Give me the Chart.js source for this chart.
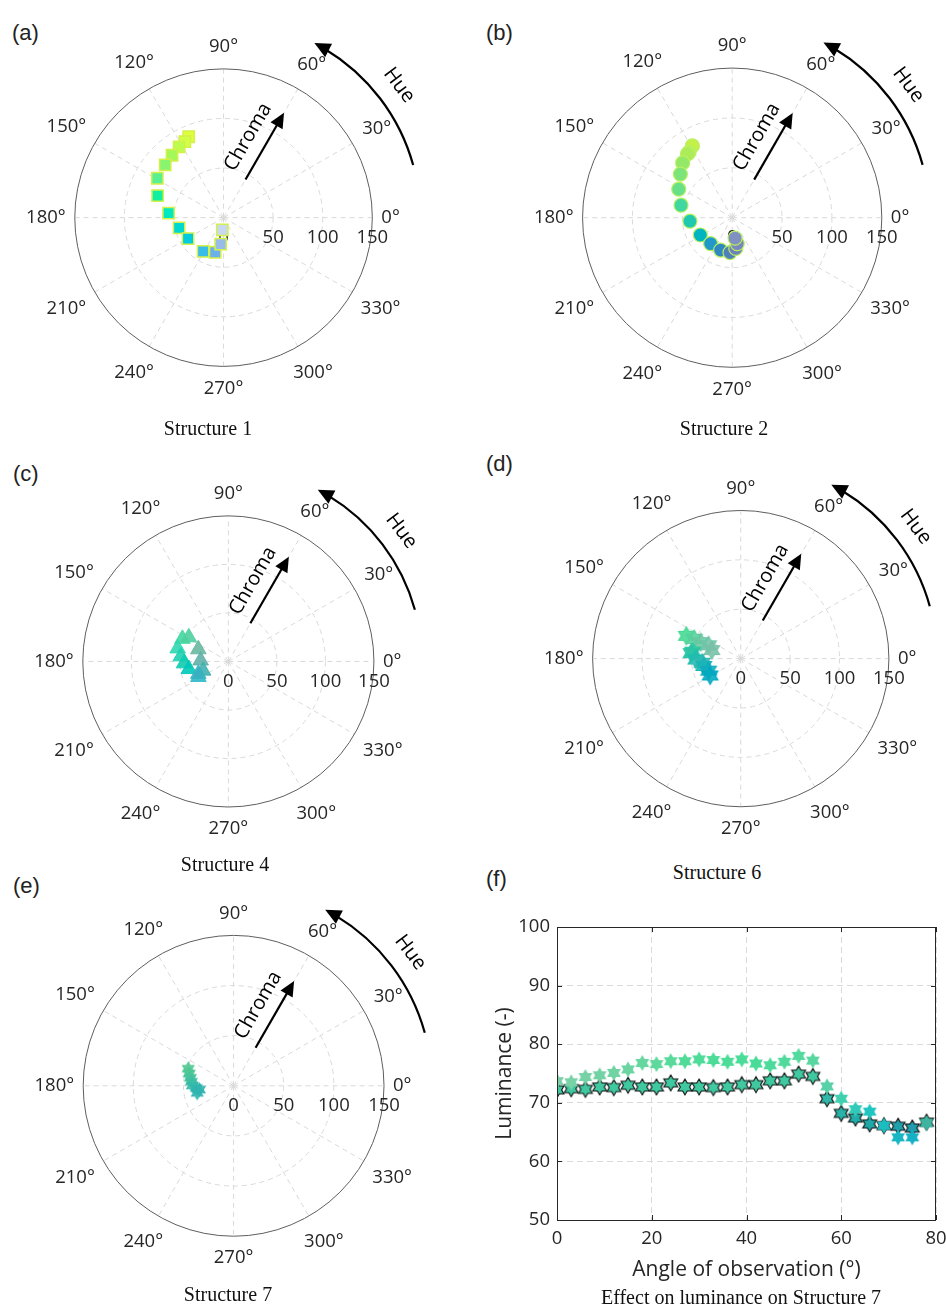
<!DOCTYPE html>
<html>
<head>
<meta charset="utf-8">
<script src="https://cdn.jsdelivr.net/npm/chart.js@4.4.1/dist/chart.umd.min.js"></script>
<style>
  body { margin: 0; background: #fff; width: 946px; height: 1306px; position: relative; overflow: hidden; }
  canvas { position: absolute; }
  .tag { position: absolute; font: 22px "Liberation Sans", Arial, sans-serif; line-height: 1; color: #222; }
  .cap { position: absolute; font: 20px "Liberation Serif", "Times New Roman", serif; color: #111;
         transform: translate(-50%, -50%); white-space: nowrap; }
</style>
</head>
<body>
<div class="tag" style="left:12px;top:22px">(a)</div>
<div class="tag" style="left:486px;top:22px">(b)</div>
<div class="tag" style="left:13px;top:463px">(c)</div>
<div class="tag" style="left:486px;top:453px">(d)</div>
<div class="tag" style="left:13px;top:875px">(e)</div>
<div class="tag" style="left:486px;top:868px">(f)</div>

<canvas id="pa"></canvas>
<canvas id="pb"></canvas>
<canvas id="pc"></canvas>
<canvas id="pd"></canvas>
<canvas id="pe"></canvas>
<canvas id="pf"></canvas>

<div class="cap" style="left:208px;top:428px">Structure 1</div>
<div class="cap" style="left:724px;top:428px">Structure 2</div>
<div class="cap" style="left:225px;top:864px">Structure 4</div>
<div class="cap" style="left:717px;top:872px">Structure 6</div>
<div class="cap" style="left:228px;top:1294px">Structure 7</div>
<div class="cap" style="left:741px;top:1297px">Effect on luminance on Structure 7</div>

<script>
// polar axes
const thetaTicks = [0, 30, 60, 90, 120, 150, 180, 210, 240, 270, 300, 330];
const rTicks = [0, 50, 100, 150];

// hue (deg) and chroma for each structure
const hueS1 = [113.2, 116.8, 122, 129.4, 137.7, 149.1, 161.5, 175.3, 193, 210.7, 238.9, 256.5, 263.8, 264.2];
const chromaS1 = [89.2, 86.4, 84.5, 81.8, 79.5, 77.8, 70.1, 55.6, 46, 41.6, 39.9, 36.1, 27, 12.4];

const hueS2 = [118.9, 123.3, 124.9, 132, 139.8, 151.8, 166.2, 184.8, 208.6, 230.4, 250.4, 266.4, 276.6, 281, 278];
const chromaS2 = [82.6, 78.8, 78.3, 74.2, 68, 60.8, 52.8, 42.5, 36.4, 33.9, 34.6, 35.2, 31.2, 26.6, 20.8];

const hueS4 = [153.7, 148.5, 165.5, 157.9, 173.9, 178, 182.5, 191, 200.2, 207.5, 202.6];
const chromaS4 = [52.8, 47.8, 54, 33.4, 49.3, 28.6, 45.7, 41.5, 27.7, 34.8, 33.5];

const hueS6 = [157.2, 157, 157.6, 157.4, 163.5, 171.7, 173.7, 181.2, 186.1, 191.3, 200.6, 209];
const chromaS6 = [59.8, 51.2, 43.9, 35.3, 30.6, 49.2, 50.6, 45.5, 39.2, 38.2, 34.8, 35.4];

const hueS7 = [159.3, 164.5, 169.4, 174.4, 179.6, 183.4, 186.5, 191];
const chromaS7 = [48.4, 46, 43.8, 42.3, 41.1, 37.3, 34.3, 37];

// luminance vs angle of observation (structure 7)
const angleObs = [0, 3, 6, 9, 12, 15, 18, 21, 24, 27, 30, 33, 36, 39, 42, 45, 48, 51, 54, 57, 60, 63, 66, 69, 72, 75, 78];
const lumLight = [73.7, 73.5, 74.4, 74.7, 75.1, 75.7, 76.8, 76.6, 77.1, 77.1, 77.4, 77.3, 77.0, 77.4, 76.7, 76.4, 77.0, 78.0, 77.2, 72.8, 70.7, 68.9, 68.5, 66.1, 64.1, 64.1, 66.5];
const lumEdged = [72.2, 72.4, 72.3, 72.7, 72.6, 73.0, 72.7, 72.7, 73.4, 72.7, 72.7, 72.6, 72.7, 73.1, 73.1, 73.75, 73.75, 74.9, 74.5, 70.7, 68.2, 67.4, 66.4, 66.1, 66.0, 65.7, 66.7];

// colours
const colS1 = ['#dcff3c', '#d0ff44', '#bcfc4c', '#a4f858', '#88f470', '#58f090', '#10f0a0', '#00e8c0',
  '#00d8d0', '#00cce0', '#38bce8', '#6cb0e8', '#98bce8', '#c8d8f0'];
const colS2 = ['#c4f048', '#b8f050', '#acec58', '#94e868', '#7ce478', '#68e088', '#40d8a0', '#20c8b0',
  '#00b4c0', '#2098c8', '#3088c0', '#5080b8', '#7080b8', '#7888bc', '#8090c0'];
const colS4 = ['#40d8a0', '#50d0a0', '#30d8b0', '#68b8a0', '#20d0b0', '#60b0a8', '#10ccb0', '#00c8b8',
  '#40b0b0', '#30b8c8', '#38b0c0'];
const colS6 = ['#40d890', '#58d09c', '#68c8a0', '#70c4a8', '#78c0a8', '#30c8a0', '#28c4a4', '#20bcb0',
  '#30b8b0', '#18b4b8', '#10acbc', '#00a8c0'];
const colS7 = ['#50c890', '#4cc894', '#48c49c', '#40c0a0', '#38bca8', '#34b8ac', '#30b4b0', '#30b4b0'];

function hex2rgb(h) { return [1, 3, 5].map(i => parseInt(h.substr(i, 2), 16)); }
function ramp(stops, n) {
  const out = [];
  for (let i = 0; i < n; i++) {
    let j = 0;
    while (j < stops.length - 2 && i > stops[j + 1][0]) j++;
    const [i0, c0] = stops[j], [i1, c1] = stops[j + 1];
    const t = Math.min(1, Math.max(0, (i - i0) / (i1 - i0)));
    const a = hex2rgb(c0), b = hex2rgb(c1);
    out.push('rgb(' + a.map((v, q) => Math.round(v + (b[q] - v) * t)).join(',') + ')');
  }
  return out;
}
const colLight = ramp([[0, '#7cd0a8'], [5, '#6cd4a0'], [9, '#50dc98'], [14, '#48dc98'], [18, '#58d8a0'],
  [19, '#58d0a8'], [20, '#40d0b0'], [22, '#20c4c0'], [25, '#14b0c4'], [26, '#40b4a0']], 27);
const colEdged = ramp([[0, '#40c8a0'], [18, '#40c8a0'], [19, '#30b8a8'], [21, '#20aca8'], [25, '#209cac'], [26, '#40b098']], 27);

function hexagram(r, fill, edge) {
  const s = Math.ceil(2 * r + 4);
  const c = document.createElement('canvas');
  c.width = c.height = s;
  const g = c.getContext('2d');
  const m = s / 2, ri = r / Math.sqrt(3);
  g.beginPath();
  for (let i = 0; i < 12; i++) {
    const a = -Math.PI / 2 + i * Math.PI / 6;
    const rr = i % 2 ? ri : r;
    g.lineTo(m + rr * Math.cos(a), m + rr * Math.sin(a));
  }
  g.closePath();
  g.fillStyle = fill;
  g.fill();
  if (edge) { g.strokeStyle = edge; g.lineWidth = 1.1; g.stroke(); }
  return c;
}

function arrowHead(ctx, tx, ty, ang, len, half) {
  const bx = tx - len * Math.cos(ang), by = ty - len * Math.sin(ang);
  ctx.beginPath();
  ctx.moveTo(tx, ty);
  ctx.lineTo(bx + half * Math.sin(ang), by - half * Math.cos(ang));
  ctx.lineTo(bx - half * Math.sin(ang), by + half * Math.cos(ang));
  ctx.closePath();
  ctx.fill();
}

const FONT = '"Open Sans", "Noto Sans", sans-serif';
const deg = Math.PI / 180;

const polarGrid = {
  id: 'polarGrid',
  beforeDatasetsDraw(chart) {
    const {ctx, scales: {x, y}} = chart;
    const cx = x.getPixelForValue(0), cy = y.getPixelForValue(0);
    const k = x.getPixelForValue(1) - cx;
    const R = rTicks[rTicks.length - 1] * k;
    ctx.save();
    // grid
    ctx.strokeStyle = '#d9d9d9';
    ctx.lineWidth = 1;
    ctx.setLineDash([5, 4]);
    thetaTicks.forEach(t => {
      ctx.beginPath();
      ctx.moveTo(cx, cy);
      ctx.lineTo(cx + R * Math.cos(t * deg), cy - R * Math.sin(t * deg));
      ctx.stroke();
    });
    rTicks.slice(1, -1).forEach(r => {
      ctx.beginPath();
      ctx.arc(cx, cy, r * k, 0, 2 * Math.PI);
      ctx.stroke();
    });
    ctx.setLineDash([]);
    ctx.strokeStyle = '#5e5e5e';
    ctx.beginPath();
    ctx.arc(cx, cy, R, 0, 2 * Math.PI);
    ctx.stroke();

    // tick labels
    ctx.fillStyle = '#262626';
    ctx.font = '18.5px ' + FONT;
    ctx.textAlign = 'center';
    ctx.textBaseline = 'middle';
    rTicks.forEach(r => ctx.fillText(String(r), cx + r * k, cy + 20));
    thetaTicks.forEach(t => {
      const c = Math.cos(t * deg), s = Math.sin(t * deg);
      const txt = t + '°';
      const w = ctx.measureText(txt).width;
      const d = R + 9 + w / 2 * Math.abs(c) + 13 * Math.abs(s);
      ctx.fillText(txt, cx + d * c, cy - d * s);
    });

    // chroma arrow
    ctx.strokeStyle = '#000';
    ctx.fillStyle = '#000';
    ctx.lineWidth = 2.2;
    const ca = 60 * deg, r0 = 44, r1 = 121;
    ctx.beginPath();
    ctx.moveTo(cx + r0 * Math.cos(ca), cy - r0 * Math.sin(ca));
    ctx.lineTo(cx + (r1 - 10) * Math.cos(ca), cy - (r1 - 10) * Math.sin(ca));
    ctx.stroke();
    arrowHead(ctx, cx + r1 * Math.cos(ca), cy - r1 * Math.sin(ca), -ca, 15, 7);
    ctx.save();
    const tx = 82 * Math.cos(ca) - 19 * Math.sin(ca), ty = 82 * Math.sin(ca) + 19 * Math.cos(ca);
    ctx.translate(cx + tx, cy - ty);
    ctx.rotate(-ca);
    ctx.font = '20px ' + FONT;
    ctx.fillText('Chroma', 0, 0);
    ctx.restore();

    // hue arc
    const RH = R + 48, a0 = 15.5 * deg, a1 = 62.5 * deg;
    ctx.beginPath();
    ctx.arc(cx, cy, RH, -a0, -(a1 - 12 / RH), true);
    ctx.stroke();
    arrowHead(ctx, cx + RH * Math.cos(a1), cy - RH * Math.sin(a1), Math.atan2(-Math.cos(a1), -Math.sin(a1)), 16, 7.5);
    ctx.save();
    const ha = 37 * deg, RT = R + 71;
    ctx.translate(cx + RT * Math.cos(ha), cy - RT * Math.sin(ha));
    ctx.rotate(Math.PI / 2 - ha);
    ctx.font = '20px ' + FONT;
    ctx.fillText('Hue', 0, 0);
    ctx.restore();
    ctx.restore();
  }
};

function polarChart(id, p) {
  const W = 473, H = 420;
  const el = document.getElementById(id);
  el.width = W; el.height = H;
  el.style.left = p.left + 'px';
  el.style.top = p.top + 'px';
  const k = p.R / rTicks[rTicks.length - 1];
  const ox = p.cx - p.left, oy = p.cy - p.top;
  return new Chart(el, {
    type: 'scatter',
    data: {
      datasets: [{
        data: p.hue.map((h, i) => ({x: p.chroma[i] * Math.cos(h * deg), y: p.chroma[i] * Math.sin(h * deg)})),
        pointStyle: p.style,
        pointRadius: p.size,
        backgroundColor: p.colors,
        borderColor: p.edge || p.colors,
        borderWidth: p.edgeWidth || 1
      }]
    },
    options: {
      responsive: false,
      animation: false,
      events: [],
      layout: {padding: 0},
      plugins: {legend: {display: false}, tooltip: {enabled: false}},
      scales: {
        x: {display: false, min: -ox / k, max: (W - ox) / k},
        y: {display: false, min: -(H - oy) / k, max: oy / k}
      }
    },
    plugins: [polarGrid]
  });
}

polarChart('pa', {left: 0, top: 0, cx: 223, cy: 218, R: 155, hue: hueS1, chroma: chromaS1,
  style: 'rect', size: 8, colors: colS1, edge: '#d4f04a', edgeWidth: 1.5});
polarChart('pb', {left: 473, top: 0, cx: 733, cy: 218, R: 155, hue: hueS2, chroma: chromaS2,
  style: 'circle', size: 7, colors: colS2, edge: '#b8f060', edgeWidth: 1.2});
polarChart('pc', {left: 0, top: 440, cx: 228, cy: 662, R: 152, hue: hueS4, chroma: chromaS4,
  style: 'triangle', size: 9, colors: colS4.map(c => c + 'e6'), edgeWidth: 1});
polarChart('pd', {left: 473, top: 440, cx: 742, cy: 659, R: 154, hue: hueS6, chroma: chromaS6,
  style: colS6.map(c => hexagram(9, c + 'e0', c)), size: 8});
polarChart('pe', {left: 0, top: 870, cx: 233.5, cy: 1086, R: 155, hue: hueS7, chroma: chromaS7,
  style: colS7.map(c => hexagram(6.5, c + 'e6', c)), size: 6});

// (f) luminance
const frame = {
  id: 'frame',
  afterDraw(chart) {
    const {ctx, chartArea: a, scales: {x, y}} = chart;
    ctx.save();
    ctx.strokeStyle = '#262626';
    ctx.lineWidth = 1;
    ctx.strokeRect(a.left + 0.5, a.top + 0.5, a.right - a.left - 1, a.bottom - a.top);
    ctx.beginPath();
    x.ticks.forEach(t => {
      const px = Math.round(x.getPixelForValue(t.value)) + 0.5;
      ctx.moveTo(px, a.bottom); ctx.lineTo(px, a.bottom - 5);
      ctx.moveTo(px, a.top); ctx.lineTo(px, a.top + 5);
    });
    y.ticks.forEach(t => {
      const py = Math.round(y.getPixelForValue(t.value)) + 0.5;
      ctx.moveTo(a.left, py); ctx.lineTo(a.left + 5, py);
      ctx.moveTo(a.right, py); ctx.lineTo(a.right - 5, py);
    });
    ctx.stroke();
    ctx.restore();
  }
};

const fEl = document.getElementById('pf');
fEl.width = 473; fEl.height = 406;
fEl.style.left = '473px'; fEl.style.top = '900px';
new Chart(fEl, {
  type: 'scatter',
  data: {
    datasets: [
      {
        data: angleObs.map((a, i) => ({x: a, y: lumLight[i]})),
        pointStyle: colLight.map(c => hexagram(8, c, null)),
        pointRadius: 7
      },
      {
        data: angleObs.map((a, i) => ({x: a, y: lumEdged[i]})),
        pointStyle: colEdged.map(c => hexagram(8, c, '#111')),
        pointRadius: 7
      }
    ]
  },
  options: {
    responsive: false,
    animation: false,
    events: [],
    layout: {padding: {top: 27, right: 10, left: 0, bottom: 0}},
    plugins: {legend: {display: false}, tooltip: {enabled: false}},
    scales: {
      x: {
        min: 0, max: 80,
        ticks: {stepSize: 20, color: '#262626', font: {size: 18.5, family: FONT}, padding: 8, maxRotation: 0},
        grid: {color: '#dadada', drawTicks: false},
        border: {display: false, dash: [6, 4]},
        title: {display: true, text: 'Angle of observation (°)', color: '#262626',
          font: {size: 21, family: FONT}, padding: {top: 0, bottom: 23}},
        afterFit(s) { s.height = 86; s.paddingLeft = 0; s.paddingRight = 0; }
      },
      y: {
        min: 50, max: 100,
        ticks: {stepSize: 10, color: '#262626', font: {size: 18.5, family: FONT}, padding: 7},
        grid: {color: '#dadada', drawTicks: false},
        border: {display: false, dash: [6, 4]},
        title: {display: true, text: 'Luminance (-)', color: '#262626',
          font: {size: 21, family: FONT}, padding: {top: 19, bottom: 0}},
        afterFit(s) { s.width = 84; s.paddingTop = 0; s.paddingBottom = 0; }
      }
    }
  },
  plugins: [frame]
});
</script>
</body>
</html>
